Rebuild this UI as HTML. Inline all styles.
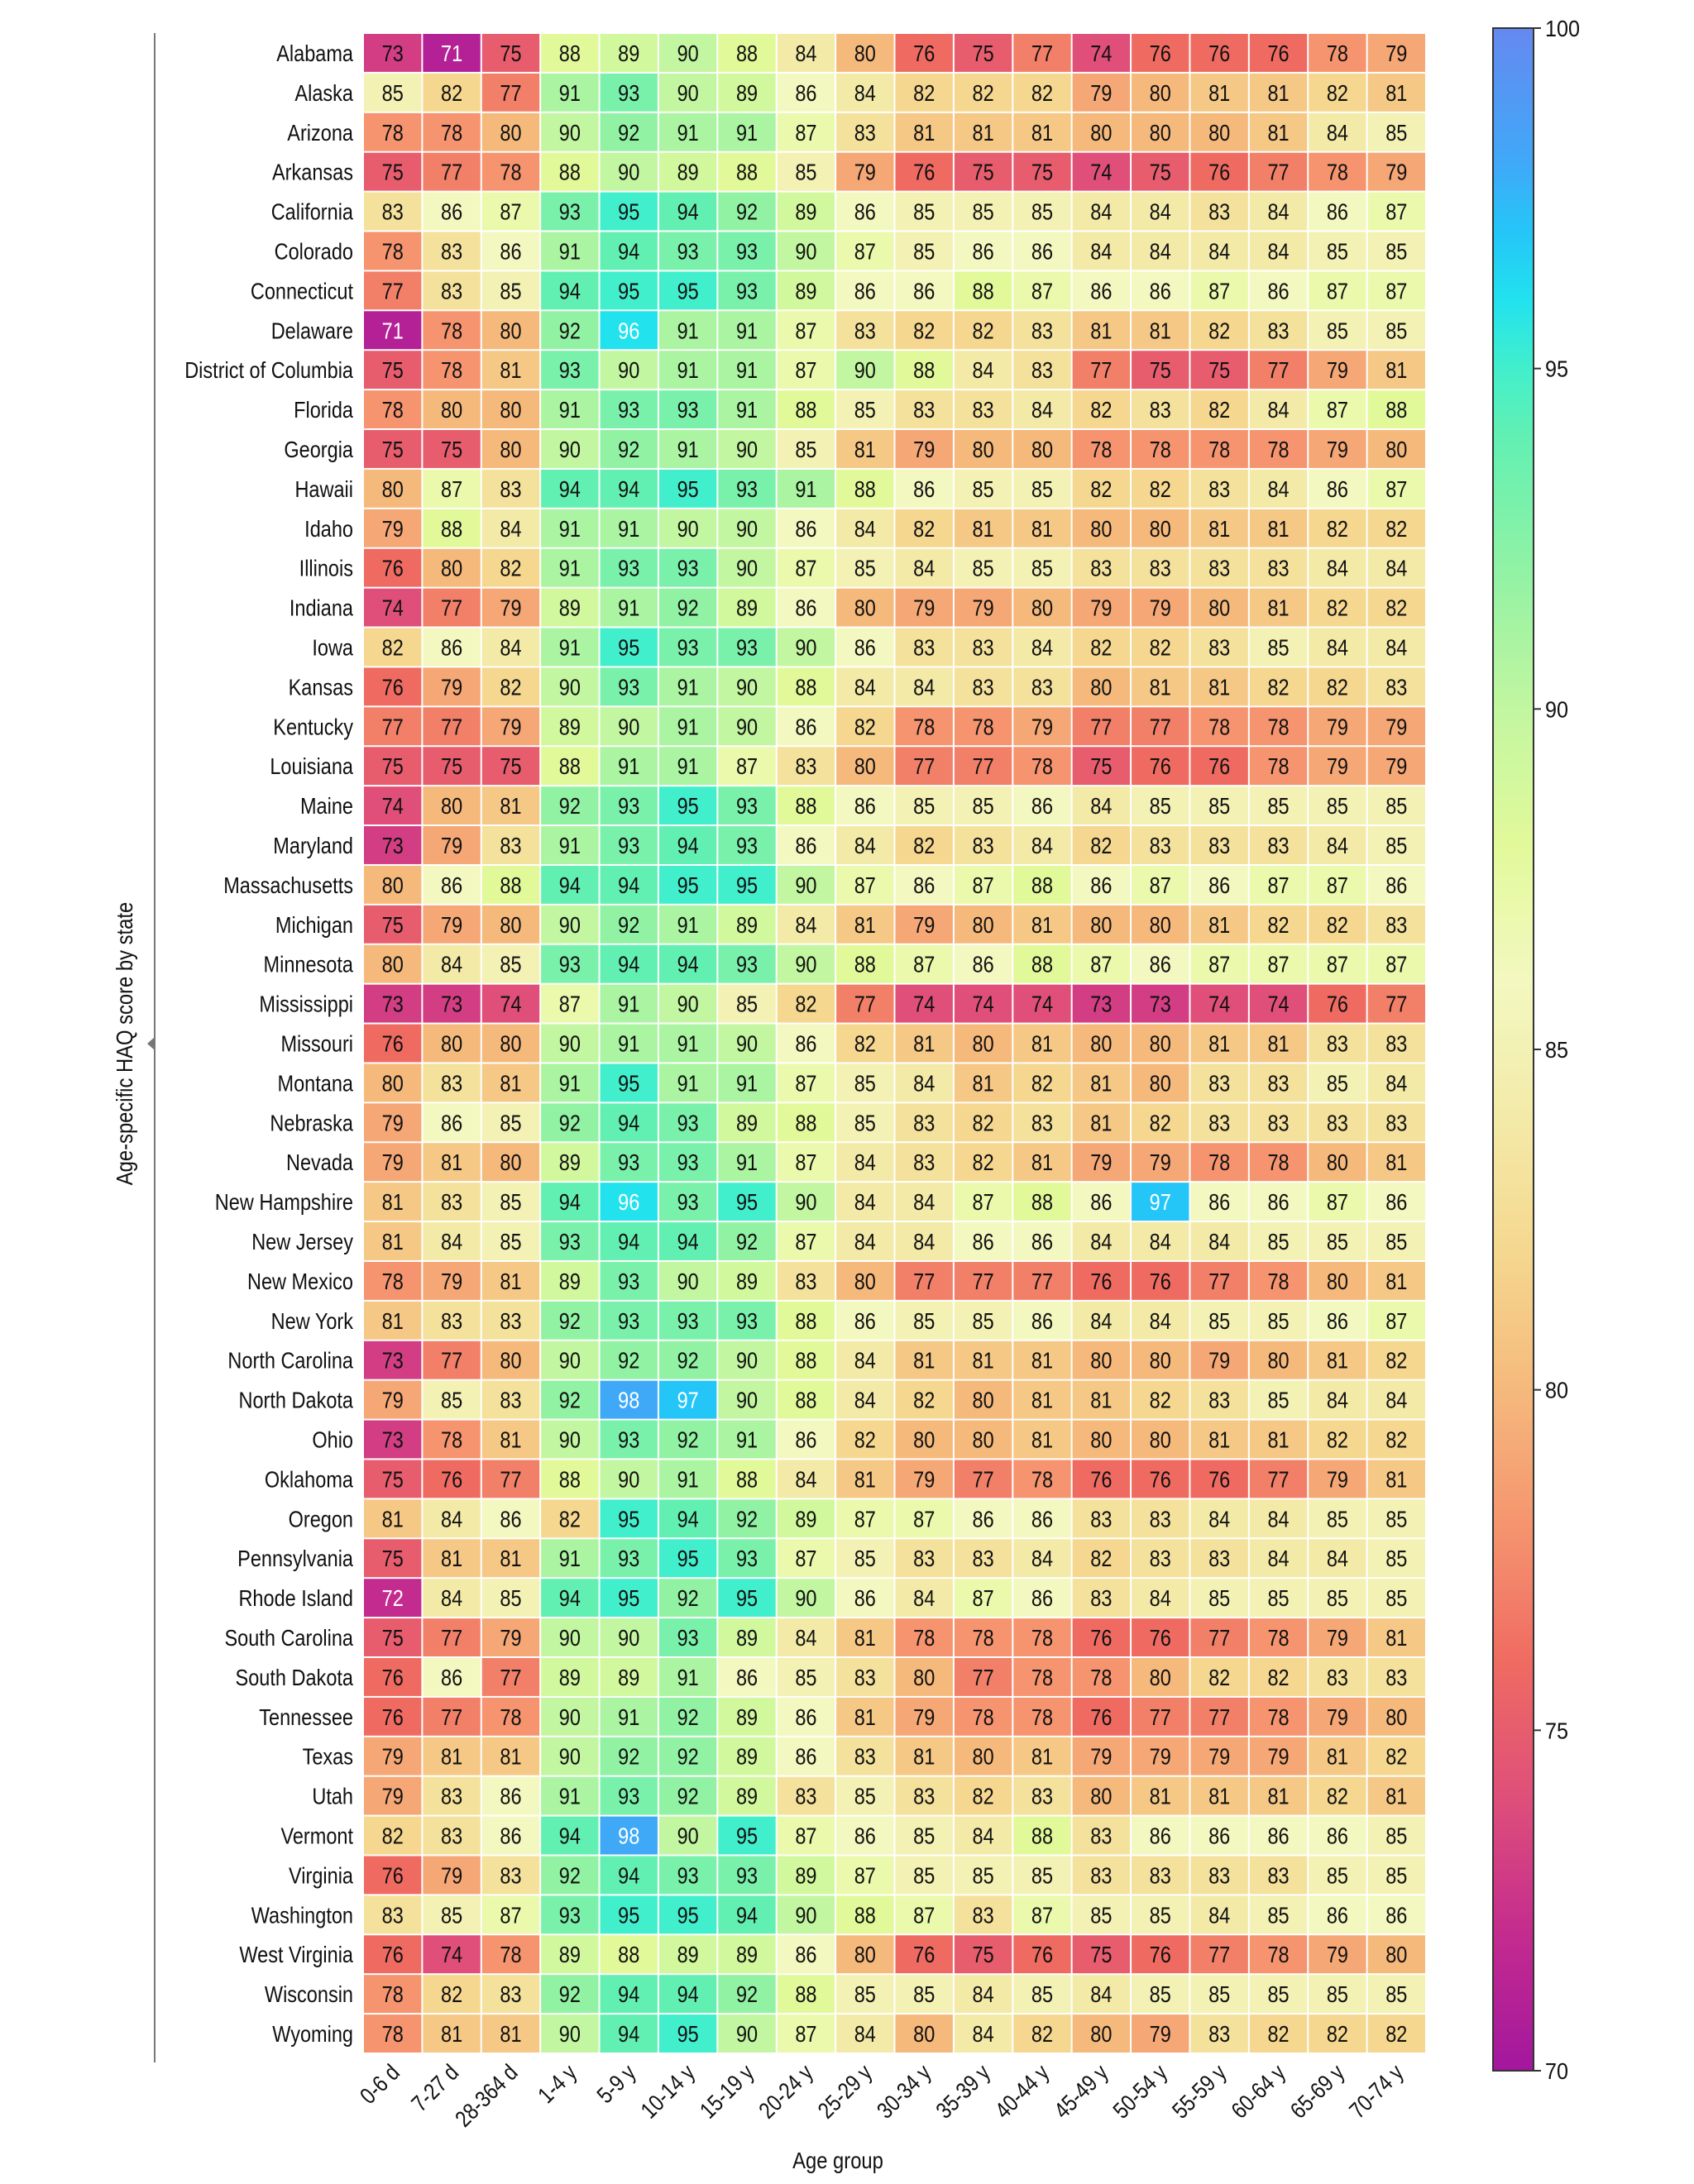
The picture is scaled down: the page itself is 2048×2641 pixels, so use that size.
<!DOCTYPE html>
<html><head><meta charset="utf-8"><style>
html,body{margin:0;padding:0;background:#fff;}
svg{display:block;font-family:"Liberation Sans Narrow","Liberation Sans",sans-serif;}
</style></head><body>
<svg id="chart" width="2048" height="2641" viewBox="0 0 2048 2641" xmlns="http://www.w3.org/2000/svg">
<defs>
<linearGradient id="cbg" x1="0" y1="1" x2="0" y2="0"></linearGradient>
</defs>
<g id="cells"></g>
<g id="ylabels"></g>
<g id="xlabels"></g>
<line x1="187" y1="40" x2="187" y2="2494" stroke="#777" stroke-width="2"/>
<polygon points="187,1254 187,1270 178,1262" fill="#777"/>
<text transform="translate(160,1262) rotate(-90) scale(0.85,1)" text-anchor="middle" font-size="28" fill="#111">Age-specific HAQ score by state</text>
<text transform="translate(1013,2622) scale(0.85,1)" text-anchor="middle" font-size="28" fill="#111">Age group</text>
<rect x="1805" y="34" width="49" height="2470" fill="url(#cbg)" stroke="#333" stroke-width="2"/>
<g id="cbticks"></g>
</svg>
<script>
const states = ["Alabama","Alaska","Arizona","Arkansas","California","Colorado","Connecticut","Delaware","District of Columbia","Florida","Georgia","Hawaii","Idaho","Illinois","Indiana","Iowa","Kansas","Kentucky","Louisiana","Maine","Maryland","Massachusetts","Michigan","Minnesota","Mississippi","Missouri","Montana","Nebraska","Nevada","New Hampshire","New Jersey","New Mexico","New York","North Carolina","North Dakota","Ohio","Oklahoma","Oregon","Pennsylvania","Rhode Island","South Carolina","South Dakota","Tennessee","Texas","Utah","Vermont","Virginia","Washington","West Virginia","Wisconsin","Wyoming"];
const ageGroups = ["0-6 d","7-27 d","28-364 d","1-4 y","5-9 y","10-14 y","15-19 y","20-24 y","25-29 y","30-34 y","35-39 y","40-44 y","45-49 y","50-54 y","55-59 y","60-64 y","65-69 y","70-74 y"];
const values = [
[73,71,75,88,89,90,88,84,80,76,75,77,74,76,76,76,78,79],
[85,82,77,91,93,90,89,86,84,82,82,82,79,80,81,81,82,81],
[78,78,80,90,92,91,91,87,83,81,81,81,80,80,80,81,84,85],
[75,77,78,88,90,89,88,85,79,76,75,75,74,75,76,77,78,79],
[83,86,87,93,95,94,92,89,86,85,85,85,84,84,83,84,86,87],
[78,83,86,91,94,93,93,90,87,85,86,86,84,84,84,84,85,85],
[77,83,85,94,95,95,93,89,86,86,88,87,86,86,87,86,87,87],
[71,78,80,92,96,91,91,87,83,82,82,83,81,81,82,83,85,85],
[75,78,81,93,90,91,91,87,90,88,84,83,77,75,75,77,79,81],
[78,80,80,91,93,93,91,88,85,83,83,84,82,83,82,84,87,88],
[75,75,80,90,92,91,90,85,81,79,80,80,78,78,78,78,79,80],
[80,87,83,94,94,95,93,91,88,86,85,85,82,82,83,84,86,87],
[79,88,84,91,91,90,90,86,84,82,81,81,80,80,81,81,82,82],
[76,80,82,91,93,93,90,87,85,84,85,85,83,83,83,83,84,84],
[74,77,79,89,91,92,89,86,80,79,79,80,79,79,80,81,82,82],
[82,86,84,91,95,93,93,90,86,83,83,84,82,82,83,85,84,84],
[76,79,82,90,93,91,90,88,84,84,83,83,80,81,81,82,82,83],
[77,77,79,89,90,91,90,86,82,78,78,79,77,77,78,78,79,79],
[75,75,75,88,91,91,87,83,80,77,77,78,75,76,76,78,79,79],
[74,80,81,92,93,95,93,88,86,85,85,86,84,85,85,85,85,85],
[73,79,83,91,93,94,93,86,84,82,83,84,82,83,83,83,84,85],
[80,86,88,94,94,95,95,90,87,86,87,88,86,87,86,87,87,86],
[75,79,80,90,92,91,89,84,81,79,80,81,80,80,81,82,82,83],
[80,84,85,93,94,94,93,90,88,87,86,88,87,86,87,87,87,87],
[73,73,74,87,91,90,85,82,77,74,74,74,73,73,74,74,76,77],
[76,80,80,90,91,91,90,86,82,81,80,81,80,80,81,81,83,83],
[80,83,81,91,95,91,91,87,85,84,81,82,81,80,83,83,85,84],
[79,86,85,92,94,93,89,88,85,83,82,83,81,82,83,83,83,83],
[79,81,80,89,93,93,91,87,84,83,82,81,79,79,78,78,80,81],
[81,83,85,94,96,93,95,90,84,84,87,88,86,97,86,86,87,86],
[81,84,85,93,94,94,92,87,84,84,86,86,84,84,84,85,85,85],
[78,79,81,89,93,90,89,83,80,77,77,77,76,76,77,78,80,81],
[81,83,83,92,93,93,93,88,86,85,85,86,84,84,85,85,86,87],
[73,77,80,90,92,92,90,88,84,81,81,81,80,80,79,80,81,82],
[79,85,83,92,98,97,90,88,84,82,80,81,81,82,83,85,84,84],
[73,78,81,90,93,92,91,86,82,80,80,81,80,80,81,81,82,82],
[75,76,77,88,90,91,88,84,81,79,77,78,76,76,76,77,79,81],
[81,84,86,82,95,94,92,89,87,87,86,86,83,83,84,84,85,85],
[75,81,81,91,93,95,93,87,85,83,83,84,82,83,83,84,84,85],
[72,84,85,94,95,92,95,90,86,84,87,86,83,84,85,85,85,85],
[75,77,79,90,90,93,89,84,81,78,78,78,76,76,77,78,79,81],
[76,86,77,89,89,91,86,85,83,80,77,78,78,80,82,82,83,83],
[76,77,78,90,91,92,89,86,81,79,78,78,76,77,77,78,79,80],
[79,81,81,90,92,92,89,86,83,81,80,81,79,79,79,79,81,82],
[79,83,86,91,93,92,89,83,85,83,82,83,80,81,81,81,82,81],
[82,83,86,94,98,90,95,87,86,85,84,88,83,86,86,86,86,85],
[76,79,83,92,94,93,93,89,87,85,85,85,83,83,83,83,85,85],
[83,85,87,93,95,95,94,90,88,87,83,87,85,85,84,85,86,86],
[76,74,78,89,88,89,89,86,80,76,75,76,75,76,77,78,79,80],
[78,82,83,92,94,94,92,88,85,85,84,85,84,85,85,85,85,85],
[78,81,81,90,94,95,90,87,84,80,84,82,80,79,83,82,82,82]
];
const cbTicks = [70,75,80,85,90,95,100];
const vMin = 70, vMax = 100;

const stops = [[70,"#a3179e"],[72,"#c42b8e"],[74,"#df4f7a"],[76,"#ef6b62"],[78,"#f5946f"],[80,"#f5b97c"],[82,"#f5d78f"],[84,"#f3eaa8"],[86,"#f3f8c0"],[88,"#e2f99a"],[90,"#c2f6a0"],[92,"#92f2a4"],[94,"#62f0b2"],[95,"#42efcc"],[96,"#22e2ee"],[97,"#24c6f8"],[98,"#3fa9f8"],[100,"#6589f0"]];
function hex(h){return [1,3,5].map(i=>parseInt(h.substr(i,2),16));}
function color(v){
  if(v<=stops[0][0]) return stops[0][1];
  for(let i=1;i<stops.length;i++){
    if(v<=stops[i][0]){
      const t=(v-stops[i-1][0])/(stops[i][0]-stops[i-1][0]);
      const a=hex(stops[i-1][1]),b=hex(stops[i][1]);
      return "rgb("+a.map((c,k)=>Math.round(c+(b[k]-c)*t)).join(",")+")";
    }
  }
  return stops[stops.length-1][1];
}
const NS="http://www.w3.org/2000/svg";
const SX=0.84;
const x0=439,x1=1724,y0=40,y1=2483;
const colW=(x1-x0)/ageGroups.length, rowH=(y1-y0)/states.length;
const xPos=i=>x0+i*colW, yPos=j=>y0+j*rowH;
const cbTop=34, cbBot=2504;
const cbY=v=>cbBot-(v-vMin)/(vMax-vMin)*(cbBot-cbTop);

const cells=document.getElementById("cells");
values.forEach((row,j)=>{
  row.forEach((v,i)=>{
    const r=document.createElementNS(NS,"rect");
    
    
    r.setAttribute("x",xPos(i)+1);r.setAttribute("y",yPos(j)+1);
    r.setAttribute("width",colW-2);r.setAttribute("height",rowH-2);
    r.setAttribute("fill",color(v));
    cells.appendChild(r);
    const t=document.createElementNS(NS,"text");
    
    
    t.setAttribute("transform","translate("+(xPos(i)+colW/2)+","+(yPos(j)+rowH/2+10)+") scale("+SX+",1)");
    t.setAttribute("text-anchor","middle");t.setAttribute("font-size","28");
    t.setAttribute("fill",(v<=72||v>=96)?"#fff":"#111");
    t.textContent=v;
    cells.appendChild(t);
  });
});
const yl=document.getElementById("ylabels");
states.forEach((s,j)=>{
  const t=document.createElementNS(NS,"text");
  
  
  t.setAttribute("transform","translate(427,"+(yPos(j)+rowH/2+10)+") scale("+SX+",1)");
  t.setAttribute("text-anchor","end");t.setAttribute("font-size","28");t.setAttribute("fill","#111");
  t.textContent=s;yl.appendChild(t);
});
const xl=document.getElementById("xlabels");
ageGroups.forEach((a,i)=>{
  const t=document.createElementNS(NS,"text");
  
  
  const cx=xPos(i)+colW/2+10, cy=2508;
  t.setAttribute("transform","translate("+cx+","+cy+") rotate(-45) scale("+SX+",1)");
  t.setAttribute("text-anchor","end");t.setAttribute("font-size","28");t.setAttribute("fill","#111");
  t.textContent=a;xl.appendChild(t);
});
const g=document.getElementById("cbg");
for(let v=vMin;v<=vMax;v+=0.5){
  const s=document.createElementNS(NS,"stop");
  s.setAttribute("offset",((v-vMin)/(vMax-vMin)).toFixed(4));
  s.setAttribute("stop-color",color(v));
  g.appendChild(s);
}
const cbt=document.getElementById("cbticks");
cbTicks.forEach(v=>{
  const l=document.createElementNS(NS,"line");
  
  
  l.setAttribute("x1",1854);l.setAttribute("x2",1863);
  l.setAttribute("y1",cbY(v));l.setAttribute("y2",cbY(v));
  l.setAttribute("stroke","#333");l.setAttribute("stroke-width","2");
  cbt.appendChild(l);
  const t=document.createElementNS(NS,"text");
  
  
  t.setAttribute("transform","translate(1868,"+(cbY(v)+10)+") scale(0.9,1)");
  t.setAttribute("font-size","28");t.setAttribute("fill","#111");
  t.textContent=v;cbt.appendChild(t);
});
</script>
</body></html>
